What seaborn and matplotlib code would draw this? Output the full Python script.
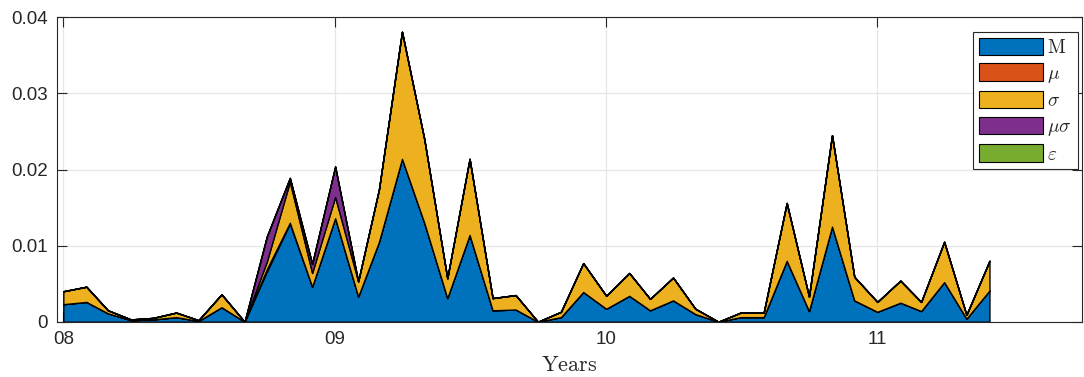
import numpy as np
import pandas as pd
import matplotlib
matplotlib.use("Agg")
import matplotlib.pyplot as plt
import matplotlib.dates as mdates
from matplotlib.patches import Patch
import seaborn as sns

# ---- data (monthly, Jan 2008 .. Jun 2011) ----
months = pd.date_range("2008-01-01", periods=42, freq="MS")
M = [0.0023, 0.0026, 0.0011, 0.0002, 0.0003, 0.0006, 0.0001, 0.0019, 0.0,
     0.0066, 0.0129, 0.0046, 0.0136, 0.0033, 0.0105, 0.0214, 0.0130, 0.0031,
     0.0114, 0.0015, 0.0016, 0.0, 0.0006, 0.0039, 0.0017, 0.0034, 0.0015,
     0.0028, 0.0010, 0.0, 0.0006, 0.0006, 0.0080, 0.0014, 0.0125, 0.0028,
     0.0013, 0.0025, 0.0014, 0.0052, 0.0004, 0.0041]
mu = [0.0, 0.0, 0.0, 0.0, 0.0, 0.0, 0.0, 0.0, 0.0,
      0.0003, 0.0001, 0.0, 0.0, 0.0, 0.0, 0.0, 0.0, 0.0,
      0.0, 0.0, 0.0, 0.0, 0.0, 0.0, 0.0, 0.0, 0.0,
      0.0, 0.0, 0.0, 0.0, 0.0, 0.0, 0.0, 0.0, 0.0,
      0.0, 0.0, 0.0, 0.0, 0.0, 0.0]
sigma = [0.0017, 0.0020, 0.0004, 0.0001, 0.0002, 0.0006, 0.0001, 0.0017, 0.0,
         0.0010, 0.0054, 0.0018, 0.0028, 0.0020, 0.0069, 0.0167, 0.0110, 0.0026,
         0.0100, 0.0016, 0.0019, 0.0, 0.0007, 0.0038, 0.0017, 0.0030, 0.0015,
         0.0030, 0.0007, 0.0, 0.0006, 0.0006, 0.0076, 0.0019, 0.0120, 0.0031,
         0.0013, 0.0029, 0.0012, 0.0053, 0.0005, 0.0039]
musigma = [0.0, 0.0, 0.0, 0.0, 0.0, 0.0, 0.0, 0.0, 0.0,
           0.0033, 0.0005, 0.0012, 0.0040, 0.0, 0.0, 0.0, 0.0, 0.0,
           0.0, 0.0, 0.0, 0.0, 0.0, 0.0, 0.0, 0.0, 0.0,
           0.0, 0.0, 0.0, 0.0, 0.0, 0.0, 0.0, 0.0, 0.0,
           0.0, 0.0, 0.0, 0.0, 0.0, 0.0]
eps = [0.0] * 42
labels = [r"$\mathrm{M}$", r"$\mu$", r"$\sigma$", r"$\mu\sigma$", r"$\varepsilon$"]
colors = ["#0072BD", "#D95319", "#EDB120", "#7E2F8E", "#77AC30"]
yticks = [0, 0.01, 0.02, 0.03, 0.04]
ytick_labels = ["0", "0.01", "0.02", "0.03", "0.04"]

sns.set_theme(style="ticks")
plt.rcParams["font.family"] = ["Liberation Sans", "DejaVu Sans"]
plt.rcParams["mathtext.fontset"] = "cm"

fig = plt.figure(figsize=(10.84, 3.77), dpi=100)
ax = fig.add_axes([57.3 / 1084, 1 - 321.7 / 377, (1082 - 57.3) / 1084, (321.7 - 17.3) / 377])

ax.grid(True, color="#e6e6e6", linewidth=0.9)
ax.set_axisbelow(True)

x = mdates.date2num(months)
ax.stackplot(x, M, mu, sigma, musigma, eps, colors=colors,
             edgecolor="black", linewidth=1.0, zorder=2)

x0 = mdates.date2num(pd.Timestamp("2008-01-01"))
ax.set_xlim(x0 - 8.1, x0 + 1371.6)
ax.set_ylim(0, 0.04)
ax.set_yticks(yticks)
ax.set_yticklabels(ytick_labels)
ax.xaxis.set_major_locator(mdates.YearLocator())
ax.xaxis.set_major_formatter(mdates.DateFormatter("%y"))

for s in ax.spines.values():
    s.set_color("#262626")
    s.set_linewidth(0.8)
ax.tick_params(direction="in", length=7.3, width=0.8, colors="#262626",
               labelsize=13.5, top=True, right=True)
ax.tick_params(axis="y", pad=7)
ax.tick_params(axis="x", pad=6.5)
ax.set_xlabel(r"$\mathrm{Years}$", fontsize=16, color="#262626", labelpad=5)

handles = [Patch(facecolor=c, edgecolor="black", linewidth=0.8) for c in colors]
leg = ax.legend(handles, labels, loc="upper right",
                bbox_to_anchor=(1 - 4 / 1024.7, 1 - 14.7 / 304.4),
                fontsize=14, frameon=True, fancybox=False, framealpha=1,
                edgecolor="#262626", handlelength=3.3, handleheight=1.0,
                handletextpad=0.22, labelspacing=0.32, borderpad=0.3,
                borderaxespad=0.0)
leg.get_frame().set_linewidth(0.8)

fig.savefig("out.png", dpi=100)
